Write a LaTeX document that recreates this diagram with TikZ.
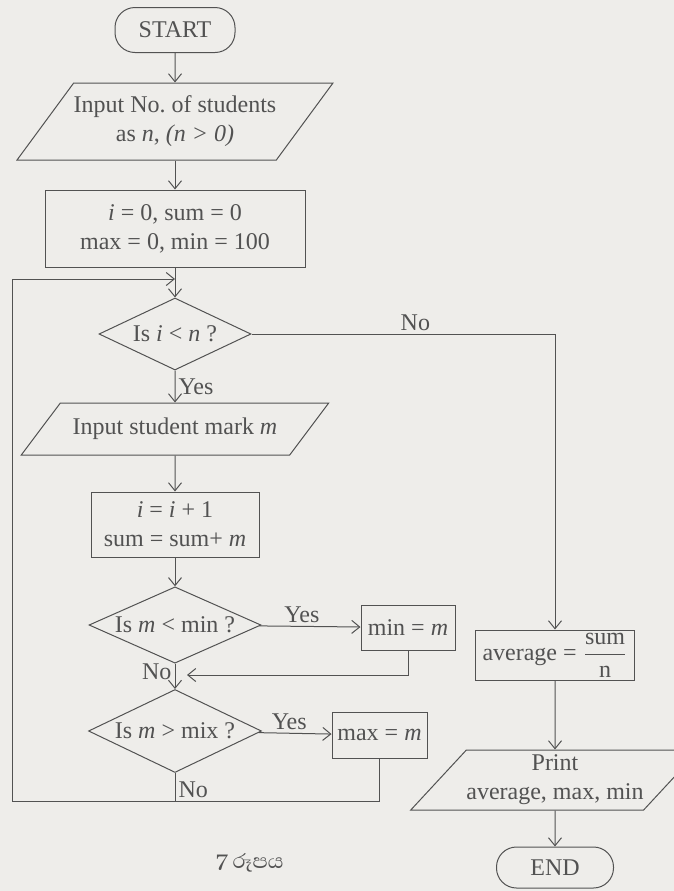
\documentclass[tikz,border=0pt]{standalone}
\usepackage{amsmath}
\usepackage{fontspec}
\setmainfont{Liberation Serif}
\newfontfamily\sinhalafont[Script=Sinhala]{Abhaya Libre}
\usetikzlibrary{arrows.meta, shapes.geometric}
\definecolor{paper}{RGB}{238,237,234}
\definecolor{ink}{RGB}{82,82,82}

\begin{document}
\begin{tikzpicture}[x=0.5pt, y=-0.5pt,
    every node/.style={text=ink, font=\fontsize{12}{14.5}\selectfont},
    startstop/.style={rectangle, rounded corners=10pt, draw=ink, line width=0.5pt, text centered},
    process/.style={rectangle, draw=ink, line width=0.5pt, align=center, inner sep=1pt},
    io/.style={trapezium, trapezium left angle=#1, trapezium right angle={180-#1}, trapezium stretches=true, draw=ink, line width=0.5pt, align=center, inner sep=0pt},
    decision/.style={diamond, aspect=2, draw=ink, line width=0.5pt, inner sep=0pt},
    arrow/.style={draw=ink, line width=0.5pt, -{Straight Barb[length=4pt,width=6.5pt]}},
    line/.style={draw=ink, line width=0.5pt},
    lbl/.style={inner sep=1.5pt}]
\fill [paper] (0,0) rectangle (674,891);
\useasboundingbox (0,0) rectangle (674,891);
\node (start) [startstop, minimum width=60pt, minimum height=22.5pt] at (175,30) {START};
\node (innum) [io=42, minimum width=151.5pt, minimum height=38.5pt] at (175,121.5) {Input No.\ of students\\ as \textit{n}, \textit{(n > 0)}};
\node (init) [process, minimum width=130pt, minimum height=38.5pt] at (175,228.5) {\textit{i} = 0, sum = 0\\ max = 0, min = 100};
\node (qn) [decision, minimum width=76pt, minimum height=36pt] at (175,334) {Is \textit{i} < \textit{n} ?};
\node (inmark) [io=32, minimum width=154pt, minimum height=26pt] at (175,429) {Input student mark \textit{m}};
\node (upd) [process, minimum width=84pt, minimum height=32.5pt] at (175,524.5) {\textit{i} = \textit{i} + 1\\ sum = sum+ \textit{m}};
\node (qmin) [decision, minimum width=86pt, minimum height=37.5pt] at (175,625) {Is \textit{m} < min ?};
\node (setmin) [process, minimum width=47pt, minimum height=22.5pt] at (408,627.5) {min = \textit{m}};
\node (qmax) [decision, minimum width=86.5pt, minimum height=41.5pt] at (175,731) {Is \textit{m} > mix ?};
\node (setmax) [process, minimum width=47.5pt, minimum height=23pt] at (379.5,735) {max = \textit{m}};
\node (avg) [process, minimum width=79.5pt, minimum height=25pt] at (555,655) {average = $\dfrac{\text{sum}}{\text{n}}$};
\node (print) [io=42, minimum width=125pt, minimum height=30pt] at (555,780) {Print\\ average, max, min};
\node (end) [startstop, minimum width=58.5pt, minimum height=20.5pt] at (555,867.5) {END};
\node (cap) [font=\sinhalafont\fontsize{13}{15}\selectfont] at (250,863) {7 රූපය};
\coordinate (loopin) at (175,279);
\coordinate (looptop) at (12,279);
\coordinate (loopleft) at (12,801);
\coordinate (loopbot) at (175,801);
\coordinate (minret) at (187,675);
\draw [arrow] (start) -- (innum);
\draw [arrow] (innum) -- (init);
\draw [arrow] (init) -- (qn);
\draw [arrow] (qn) -- node[lbl, right] {Yes} (inmark);
\draw [arrow] (qn) -| node[lbl, above, pos=0.27] {No} (avg);
\draw [arrow] (inmark) -- (upd);
\draw [arrow] (upd) -- (qmin);
\draw [arrow] (qmin) -- node[lbl, above, pos=0.42] {Yes} (setmin);
\draw [arrow] (qmin) -- node[lbl, left, pos=0.3] {No} (qmax);
\draw [arrow] (setmin) |- (minret);
\draw [arrow] (qmax) -- node[lbl, above, pos=0.42] {Yes} (setmax);
\draw [line] (qmax) -- node[lbl, right, pos=0.6] {No} (loopbot);
\draw [line] (setmax) |- (loopbot);
\draw [arrow] (loopbot) -- (loopleft) -- (looptop) -- (loopin);
\draw [arrow] (avg) -- (print);
\draw [arrow] (print) -- (end);
\end{tikzpicture}
\end{document}
